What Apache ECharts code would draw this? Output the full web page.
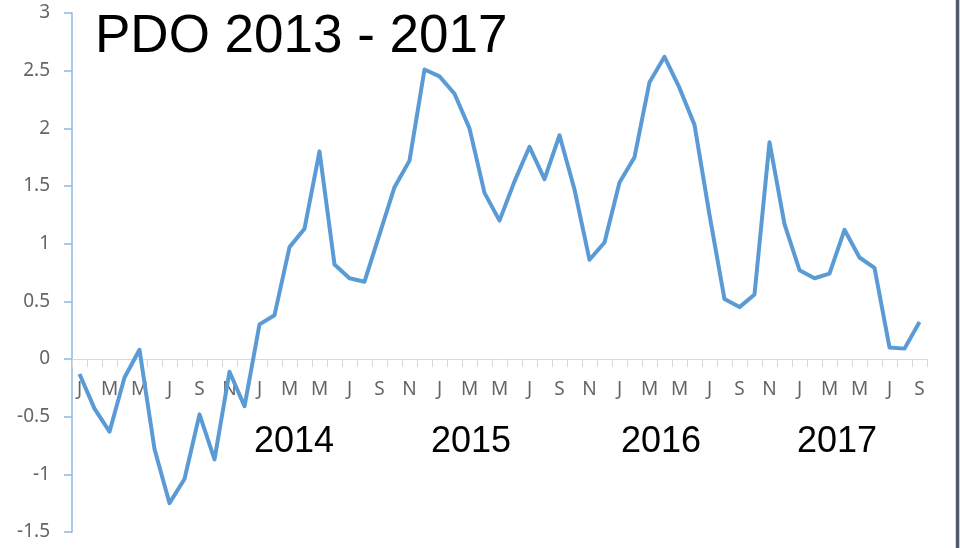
<!DOCTYPE html>
<html>
<head>
<meta charset="utf-8">
<script src="https://cdn.jsdelivr.net/npm/echarts@6/dist/echarts.min.js"></script>
<style>
html,body{margin:0;padding:0;background:#fff;}
#chart{width:960px;height:548px;}
</style>
</head>
<body>
<div id="chart"></div>
<script>
// ---- data ----
var monthLetters = ['J','F','M','A','M','J','J','A','S','O','N','D'];
var years = [2013, 2014, 2015, 2016, 2017];
var pdo2013 = [-0.13, -0.43, -0.63, -0.16, 0.08, -0.78, -1.25, -1.04, -0.48, -0.87, -0.11, -0.41];
var pdo2014 = [0.30, 0.38, 0.97, 1.13, 1.80, 0.82, 0.70, 0.67, 1.08, 1.49, 1.72, 2.51];
var pdo2015 = [2.45, 2.30, 2.00, 1.44, 1.20, 1.54, 1.84, 1.56, 1.94, 1.47, 0.86, 1.01];
var pdo2016 = [1.53, 1.75, 2.40, 2.62, 2.35, 2.03, 1.25, 0.52, 0.45, 0.56, 1.88, 1.17];
var pdo2017 = [0.77, 0.70, 0.74, 1.12, 0.88, 0.79, 0.10, 0.09, 0.32];
var yearLabels = ['2014', '2015', '2016', '2017'];
var titleText = 'PDO 2013 - 2017';
var yMin = -1.5, yMax = 3, yStep = 0.5;

// ---- build ----
var pdoValues = [].concat(pdo2013, pdo2014, pdo2015, pdo2016, pdo2017);
var categories = [];
for (var i = 0; i < pdoValues.length; i++) {
  categories.push(years[Math.floor(i / 12)] + '-' + (i % 12 + 1));
}

var chart = echarts.init(document.getElementById('chart'), null, {renderer: 'canvas'});

var plotTop = 13, plotBottom = 532, plotLeft = 72, plotRight = 927;
var zeroY = plotTop + (plotBottom - plotTop) * (yMax - 0) / (yMax - yMin);

var yearPos = [294, 471, 661, 837];
var graphics = [{
  type: 'text', left: 95, top: 11,
  style: {text: titleText, fill: '#000', font: '53px "Liberation Sans", Arial, sans-serif'}
}];
yearLabels.forEach(function (t, k) {
  graphics.push({
    type: 'text', x: yearPos[k], y: 442,
    style: {text: t, fill: '#000', font: '36px "Liberation Sans", Arial, sans-serif',
            align: 'center', verticalAlign: 'middle'}
  });
});
graphics.push({type: 'rect', shape: {x: 955, y: 0, width: 1, height: 548}, style: {fill: '#d8d8d8'}});
graphics.push({type: 'rect', shape: {x: 956, y: 0, width: 3, height: 548}, style: {fill: '#545a6e'}});
graphics.push({type: 'rect', shape: {x: 959, y: 0, width: 1, height: 548}, style: {fill: '#cfcfcf'}});

var labelFont = '"Noto Sans", "Open Sans", sans-serif';

chart.setOption({
  animation: false,
  grid: [
    {left: plotLeft, right: 960 - plotRight, top: plotTop, bottom: 548 - plotBottom,
     containLabel: false, outerBoundsMode: 'none'},
    {left: plotLeft, right: 960 - plotRight, top: plotTop, bottom: 548 - zeroY,
     containLabel: false, outerBoundsMode: 'none'}
  ],
  xAxis: [{
    gridIndex: 0,
    type: 'category',
    data: categories,
    boundaryGap: true,
    axisLine: {show: false},
    axisTick: {show: false},
    axisLabel: {show: false},
    splitLine: {show: false}
  }, {
    gridIndex: 1,
    type: 'category',
    data: categories,
    boundaryGap: true,
    position: 'bottom',
    axisLine: {onZero: false, lineStyle: {color: '#d9d9d9', width: 1}},
    axisTick: {show: true, interval: 0, alignWithLabel: false, length: 8, lineStyle: {color: '#d9d9d9'}},
    axisLabel: {
      interval: 1,
      margin: 21,
      color: '#656565',
      fontSize: 19,
      fontFamily: labelFont,
      formatter: function (v, idx) { return monthLetters[idx % 12]; }
    },
    splitLine: {show: false}
  }],
  yAxis: [{
    gridIndex: 0,
    type: 'value',
    min: yMin, max: yMax, interval: yStep,
    axisLine: {show: true, lineStyle: {color: '#8cb9e4', width: 1.5}},
    axisTick: {show: true, length: 8, lineStyle: {color: '#8cb9e4', width: 1.5}},
    axisLabel: {
      margin: 22,
      color: '#656565',
      fontSize: 19,
      fontFamily: labelFont
    },
    splitLine: {show: false}
  }, {
    gridIndex: 1,
    type: 'value',
    min: 0, max: yMax,
    show: false
  }],
  series: [{
    type: 'line',
    xAxisIndex: 0,
    yAxisIndex: 0,
    data: pdoValues,
    showSymbol: false,
    symbol: 'none',
    smooth: false,
    z: 5,
    lineStyle: {color: '#5b9bd5', width: 4, join: 'round'},
    itemStyle: {color: '#5b9bd5'}
  }],
  graphic: graphics
});
</script>
</body>
</html>
